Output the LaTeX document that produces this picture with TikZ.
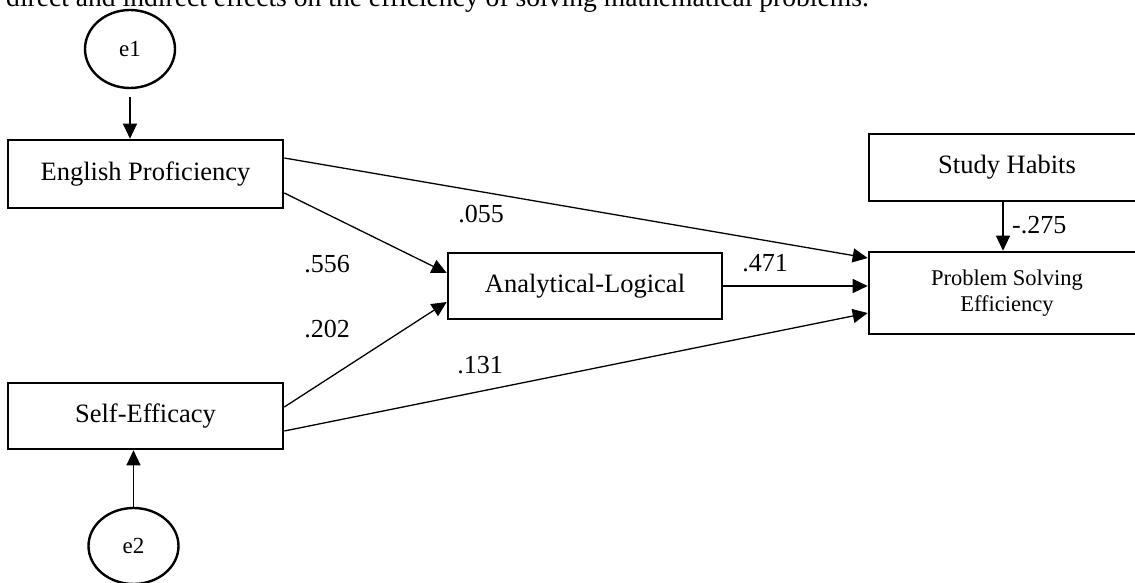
\documentclass[tikz,border=0pt]{standalone}
\usepackage{fontspec}
\setmainfont{Liberation Serif}
\usetikzlibrary{arrows.meta,shapes.geometric}
\tikzset{
  box/.style={draw, line width=2.6pt, inner sep=0pt, align=center,
    font=\fontsize{26.5}{30}\selectfont},
  err/.style={draw, ellipse, line width=2.4pt, inner sep=0pt,
    minimum width=90pt, minimum height=78pt, font=\fontsize{23}{26}\selectfont},
  path/.style={line width=1.3pt, -{Triangle[length=15pt,width=14pt]}},
  coef/.style={inner sep=0pt, font=\fontsize{26}{30}\selectfont},
}
\begin{document}
\begin{tikzpicture}[x=1pt,y=-1pt]
\useasboundingbox (0,0) rectangle (1135,583);
\clip (0,0) rectangle (1135,583);
% cut-off caption line
\node[anchor=base west, inner sep=0pt, font=\fontsize{27.6}{30}\selectfont] (cap) at (6,7)
  {direct and indirect effects on the efficiency of solving mathematical problems.};
% nodes
\node[err] (e1) at (130,49) {e1};
\node[err, minimum height=76pt] (e2) at (133.5,546) {e2};
\node[box, minimum width=275pt, minimum height=68pt] (ep) at (145.5,174) {English Proficiency};
\node[box, minimum width=275pt, minimum height=66pt] (se) at (145.5,416) {Self-Efficacy};
\node[box, minimum width=274pt, minimum height=66pt] (al) at (585,286) {Analytical-Logical};
\node[box, minimum width=276pt, minimum height=67pt] (sh) at (1007,167.5) {Study Habits};
\node[box, minimum width=276pt, minimum height=82pt, font=\fontsize{22.5}{26}\selectfont] (pse) at (1007,293) {Problem Solving\\Efficiency};
% connectors
\draw[path, shorten <=8pt] (e1.south) -- (e1.south |- ep.north);
\draw[path] (e2.north) -- (e2.north |- se.south);
\draw[path] ([yshift=16pt]ep.east) -- ([yshift=35pt]pse.west);
\draw[path] ([yshift=-19pt]ep.east) -- ([yshift=13pt]al.west);
\draw[path] ([yshift=9pt]se.east) -- ([yshift=-16pt]al.west);
\draw[path] ([yshift=-15pt]se.east) -- ([yshift=-20pt]pse.west);
\draw[path] (al.east) -- (al.east -| pse.west);
\draw[path] ([xshift=-4pt]sh.south) -- ([xshift=-4pt]pse.north);
% coefficients
\node[coef] (c055) at (481,214) {.055};
\node[coef] (c556) at (327,264) {.556};
\node[coef] (c202) at (327,329) {.202};
\node[coef] (c131) at (480,365) {.131};
\node[coef] (c471) at (765,263) {.471};
\node[coef, anchor=west] (c275) at (1012,225) {-.275};
\end{tikzpicture}
\end{document}
